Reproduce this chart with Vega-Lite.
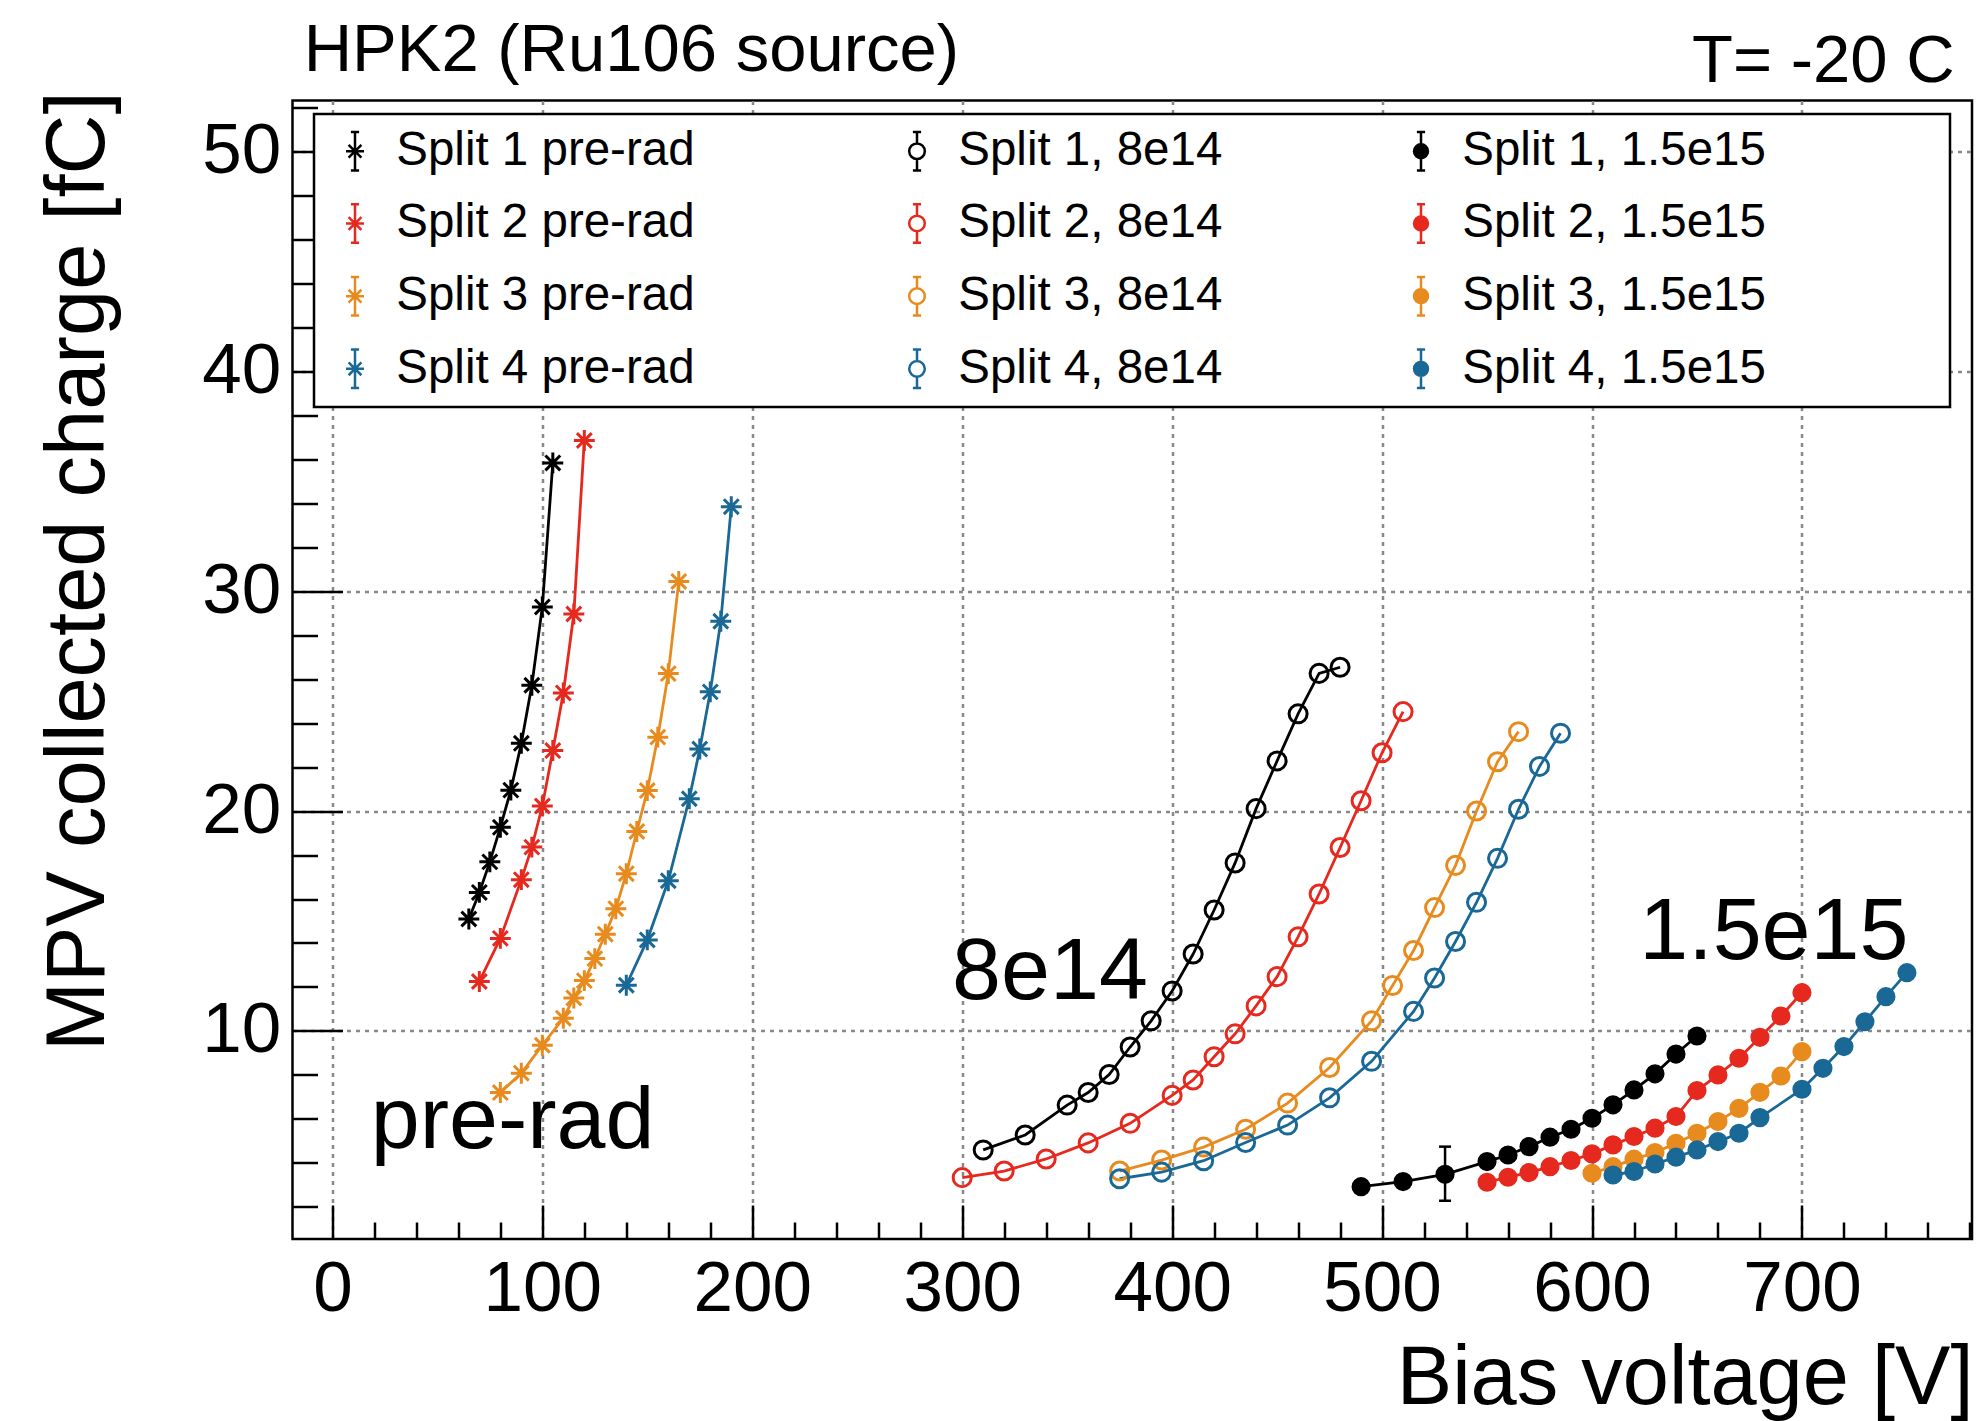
{
"$schema": "https://vega.github.io/schema/vega-lite/v6.json",
"width": 1679.5,
"height": 1138.5,
"autosize": "none",
"padding": {"left": 292.5, "top": 100.5, "right": 7, "bottom": 182},
"background": "white",
"config": {"view": {"stroke": "black", "strokeWidth": 2.5}, "font": "Liberation Sans", "legend": {"strokeWidth": 2.5}},
"datasets": {
"pts": [
{"s":"Split 1 pre-rad","v":65,"q":15.09},{"s":"Split 1 pre-rad","v":70,"q":16.30},{"s":"Split 1 pre-rad","v":75,"q":17.69},{"s":"Split 1 pre-rad","v":80,"q":19.26},{"s":"Split 1 pre-rad","v":85,"q":20.95},{"s":"Split 1 pre-rad","v":90,"q":23.08},{"s":"Split 1 pre-rad","v":95,"q":25.72},{"s":"Split 1 pre-rad","v":100,"q":29.28},{"s":"Split 1 pre-rad","v":105,"q":35.83},
{"s":"Split 2 pre-rad","v":70,"q":12.25},{"s":"Split 2 pre-rad","v":80,"q":14.21},{"s":"Split 2 pre-rad","v":90,"q":16.88},{"s":"Split 2 pre-rad","v":95,"q":18.36},{"s":"Split 2 pre-rad","v":100,"q":20.23},{"s":"Split 2 pre-rad","v":105,"q":22.75},{"s":"Split 2 pre-rad","v":110,"q":25.37},{"s":"Split 2 pre-rad","v":115,"q":28.96},{"s":"Split 2 pre-rad","v":120,"q":36.85},
{"s":"Split 3 pre-rad","v":80,"q":7.20},{"s":"Split 3 pre-rad","v":90,"q":8.08},{"s":"Split 3 pre-rad","v":100,"q":9.35},{"s":"Split 3 pre-rad","v":110,"q":10.58},{"s":"Split 3 pre-rad","v":115,"q":11.50},{"s":"Split 3 pre-rad","v":120,"q":12.29},{"s":"Split 3 pre-rad","v":125,"q":13.29},{"s":"Split 3 pre-rad","v":130,"q":14.40},{"s":"Split 3 pre-rad","v":135,"q":15.56},{"s":"Split 3 pre-rad","v":140,"q":17.15},{"s":"Split 3 pre-rad","v":145,"q":19.07},{"s":"Split 3 pre-rad","v":150,"q":20.93},{"s":"Split 3 pre-rad","v":155,"q":23.36},{"s":"Split 3 pre-rad","v":160,"q":26.25},{"s":"Split 3 pre-rad","v":165,"q":30.44},
{"s":"Split 4 pre-rad","v":140,"q":12.08},{"s":"Split 4 pre-rad","v":150,"q":14.14},{"s":"Split 4 pre-rad","v":160,"q":16.83},{"s":"Split 4 pre-rad","v":170,"q":20.56},{"s":"Split 4 pre-rad","v":175,"q":22.82},{"s":"Split 4 pre-rad","v":180,"q":25.42},{"s":"Split 4 pre-rad","v":185,"q":28.63},{"s":"Split 4 pre-rad","v":190,"q":33.84},
{"s":"Split 1, 8e14","v":310,"q":4.59},{"s":"Split 1, 8e14","v":330,"q":5.27},{"s":"Split 1, 8e14","v":350,"q":6.63},{"s":"Split 1, 8e14","v":360,"q":7.20},{"s":"Split 1, 8e14","v":370,"q":8.02},{"s":"Split 1, 8e14","v":380,"q":9.27},{"s":"Split 1, 8e14","v":390,"q":10.46},{"s":"Split 1, 8e14","v":400,"q":11.82},{"s":"Split 1, 8e14","v":410,"q":13.50},{"s":"Split 1, 8e14","v":420,"q":15.50},{"s":"Split 1, 8e14","v":430,"q":17.64},{"s":"Split 1, 8e14","v":440,"q":20.11},{"s":"Split 1, 8e14","v":450,"q":22.28},{"s":"Split 1, 8e14","v":460,"q":24.42},{"s":"Split 1, 8e14","v":470,"q":26.26},{"s":"Split 1, 8e14","v":480,"q":26.54},
{"s":"Split 2, 8e14","v":300,"q":3.33},{"s":"Split 2, 8e14","v":320,"q":3.63},{"s":"Split 2, 8e14","v":340,"q":4.18},{"s":"Split 2, 8e14","v":360,"q":4.91},{"s":"Split 2, 8e14","v":380,"q":5.80},{"s":"Split 2, 8e14","v":400,"q":7.07},{"s":"Split 2, 8e14","v":410,"q":7.77},{"s":"Split 2, 8e14","v":420,"q":8.83},{"s":"Split 2, 8e14","v":430,"q":9.87},{"s":"Split 2, 8e14","v":440,"q":11.14},{"s":"Split 2, 8e14","v":450,"q":12.47},{"s":"Split 2, 8e14","v":460,"q":14.28},{"s":"Split 2, 8e14","v":470,"q":16.23},{"s":"Split 2, 8e14","v":480,"q":18.34},{"s":"Split 2, 8e14","v":490,"q":20.47},{"s":"Split 2, 8e14","v":500,"q":22.65},{"s":"Split 2, 8e14","v":510,"q":24.52},
{"s":"Split 3, 8e14","v":375,"q":3.63},{"s":"Split 3, 8e14","v":395,"q":4.13},{"s":"Split 3, 8e14","v":415,"q":4.72},{"s":"Split 3, 8e14","v":435,"q":5.53},{"s":"Split 3, 8e14","v":455,"q":6.72},{"s":"Split 3, 8e14","v":475,"q":8.34},{"s":"Split 3, 8e14","v":495,"q":10.46},{"s":"Split 3, 8e14","v":505,"q":12.07},{"s":"Split 3, 8e14","v":515,"q":13.66},{"s":"Split 3, 8e14","v":525,"q":15.61},{"s":"Split 3, 8e14","v":535,"q":17.53},{"s":"Split 3, 8e14","v":545,"q":20.0},{"s":"Split 3, 8e14","v":555,"q":22.24},{"s":"Split 3, 8e14","v":565,"q":23.61},
{"s":"Split 4, 8e14","v":375,"q":3.28},{"s":"Split 4, 8e14","v":395,"q":3.58},{"s":"Split 4, 8e14","v":415,"q":4.10},{"s":"Split 4, 8e14","v":435,"q":4.93},{"s":"Split 4, 8e14","v":455,"q":5.72},{"s":"Split 4, 8e14","v":475,"q":6.96},{"s":"Split 4, 8e14","v":495,"q":8.62},{"s":"Split 4, 8e14","v":515,"q":10.89},{"s":"Split 4, 8e14","v":525,"q":12.41},{"s":"Split 4, 8e14","v":535,"q":14.07},{"s":"Split 4, 8e14","v":545,"q":15.85},{"s":"Split 4, 8e14","v":555,"q":17.85},{"s":"Split 4, 8e14","v":565,"q":20.08},{"s":"Split 4, 8e14","v":575,"q":22.03},{"s":"Split 4, 8e14","v":585,"q":23.54},
{"s":"Split 1, 1.5e15","v":490,"q":2.92},{"s":"Split 1, 1.5e15","v":510,"q":3.15},{"s":"Split 1, 1.5e15","v":530,"q":3.48},{"s":"Split 1, 1.5e15","v":550,"q":4.06},{"s":"Split 1, 1.5e15","v":560,"q":4.36},{"s":"Split 1, 1.5e15","v":570,"q":4.74},{"s":"Split 1, 1.5e15","v":580,"q":5.17},{"s":"Split 1, 1.5e15","v":590,"q":5.53},{"s":"Split 1, 1.5e15","v":600,"q":6.03},{"s":"Split 1, 1.5e15","v":610,"q":6.64},{"s":"Split 1, 1.5e15","v":620,"q":7.32},{"s":"Split 1, 1.5e15","v":630,"q":8.05},{"s":"Split 1, 1.5e15","v":640,"q":8.95},{"s":"Split 1, 1.5e15","v":650,"q":9.77},
{"s":"Split 2, 1.5e15","v":550,"q":3.12},{"s":"Split 2, 1.5e15","v":560,"q":3.35},{"s":"Split 2, 1.5e15","v":570,"q":3.56},{"s":"Split 2, 1.5e15","v":580,"q":3.83},{"s":"Split 2, 1.5e15","v":590,"q":4.11},{"s":"Split 2, 1.5e15","v":600,"q":4.41},{"s":"Split 2, 1.5e15","v":610,"q":4.82},{"s":"Split 2, 1.5e15","v":620,"q":5.20},{"s":"Split 2, 1.5e15","v":630,"q":5.58},{"s":"Split 2, 1.5e15","v":640,"q":6.11},{"s":"Split 2, 1.5e15","v":650,"q":7.29},{"s":"Split 2, 1.5e15","v":660,"q":8.00},{"s":"Split 2, 1.5e15","v":670,"q":8.76},{"s":"Split 2, 1.5e15","v":680,"q":9.71},{"s":"Split 2, 1.5e15","v":690,"q":10.68},{"s":"Split 2, 1.5e15","v":700,"q":11.74},
{"s":"Split 3, 1.5e15","v":600,"q":3.53},{"s":"Split 3, 1.5e15","v":610,"q":3.83},{"s":"Split 3, 1.5e15","v":620,"q":4.17},{"s":"Split 3, 1.5e15","v":630,"q":4.47},{"s":"Split 3, 1.5e15","v":640,"q":4.89},{"s":"Split 3, 1.5e15","v":650,"q":5.35},{"s":"Split 3, 1.5e15","v":660,"q":5.88},{"s":"Split 3, 1.5e15","v":670,"q":6.48},{"s":"Split 3, 1.5e15","v":680,"q":7.21},{"s":"Split 3, 1.5e15","v":690,"q":7.95},{"s":"Split 3, 1.5e15","v":700,"q":9.06},
{"s":"Split 4, 1.5e15","v":610,"q":3.45},{"s":"Split 4, 1.5e15","v":620,"q":3.61},{"s":"Split 4, 1.5e15","v":630,"q":3.95},{"s":"Split 4, 1.5e15","v":640,"q":4.26},{"s":"Split 4, 1.5e15","v":650,"q":4.59},{"s":"Split 4, 1.5e15","v":660,"q":4.97},{"s":"Split 4, 1.5e15","v":670,"q":5.35},{"s":"Split 4, 1.5e15","v":680,"q":6.06},{"s":"Split 4, 1.5e15","v":700,"q":7.35},{"s":"Split 4, 1.5e15","v":710,"q":8.30},{"s":"Split 4, 1.5e15","v":720,"q":9.29},{"s":"Split 4, 1.5e15","v":730,"q":10.42},{"s":"Split 4, 1.5e15","v":740,"q":11.56},{"s":"Split 4, 1.5e15","v":750,"q":12.65}
],
"err": [{"v":530,"lo":2.28,"hi":4.74}],
"notes": [{"t":"pre-rad","v":18.3,"q":4.68},{"t":"8e14","v":295.2,"q":11.46},{"t":"1.5e15","v":622.5,"q":13.26}]
},
"resolve": {"axis": {"x": "independent", "y": "independent"}},
"layer": [
{
"data": {"name": "pts"},
"mark": {"type": "line", "strokeWidth": 2.8},
"encoding": {
"x": {"field": "v", "type": "quantitative", "scale": {"domain": [-19, 781], "nice": false, "zero": false},
"axis": {"orient": "bottom", "values": [0,100,200,300,400,500,600,700], "format": "d", "domain": false, "ticks": true, "tickSize": -34, "tickWidth": 2.5, "tickColor": "black", "labelFontSize": 71, "labelFont": "Liberation Sans", "labelColor": "black", "labelPadding": 105, "labelBaseline": "alphabetic", "labelFlush": false, "labelOverlap": false, "labelBound": false, "grid": true, "gridColor": "#888888", "gridDash": [4,5], "gridWidth": 2.5, "title": "Bias voltage [V]", "titleFont": "Liberation Sans", "titleFontSize": 83, "titleFontWeight": "normal", "titleColor": "black", "titleAlign": "right", "titleBaseline": "alphabetic", "titleX": 1680.5, "titleY": 164}},
"y": {"field": "q", "type": "quantitative", "scale": {"domain": [0.54, 52.31], "nice": false, "zero": false},
"axis": {"orient": "left", "values": [10,20,30,40,50], "format": "d", "domain": false, "ticks": true, "tickSize": -50, "tickWidth": 2.5, "tickColor": "black", "labelFontSize": 71, "labelFont": "Liberation Sans", "labelColor": "black", "labelPadding": 61.7, "labelAlign": "right", "labelBaseline": "middle", "labelFlush": false, "labelOverlap": false, "labelBound": false, "grid": true, "gridColor": "#888888", "gridDash": [4,5], "gridWidth": 2.5, "title": "MPV collected charge [fC]", "titleFont": "Liberation Sans", "titleFontSize": 83, "titleFontWeight": "normal", "titleColor": "black", "titleAngle": -90, "titleAlign": "right", "titleBaseline": "alphabetic", "titleX": -189, "titleY": -9.5}},
"color": {"field": "s", "type": "nominal", "legend": null, "scale": {"domain": ["Split 1 pre-rad","Split 1, 8e14","Split 1, 1.5e15","Split 2 pre-rad","Split 2, 8e14","Split 2, 1.5e15","Split 3 pre-rad","Split 3, 8e14","Split 3, 1.5e15","Split 4 pre-rad","Split 4, 8e14","Split 4, 1.5e15"], "range": ["#000000","#000000","#000000","#e6291e","#e6291e","#e6291e","#e88b1e","#e88b1e","#e88b1e","#1a6896","#1a6896","#1a6896"]}}
}
},
{
"data": {"name": "pts"},
"mark": {"type": "point", "size": 361, "strokeWidth": 3, "opacity": 1},
"encoding": {
"x": {"field": "v", "type": "quantitative", "scale": {"domain": [-19, 781], "nice": false, "zero": false},
"axis": {"orient": "bottom", "values": [20,40,60,80,120,140,160,180,220,240,260,280,320,340,360,380,420,440,460,480,520,540,560,580,620,640,660,680,720,740,760,780], "domain": false, "labels": false, "grid": false, "ticks": true, "tickSize": -17, "tickWidth": 2.5, "tickColor": "black", "title": null}},
"y": {"field": "q", "type": "quantitative", "scale": {"domain": [0.54, 52.31], "nice": false, "zero": false},
"axis": {"orient": "left", "values": [2,4,6,8,12,14,16,18,22,24,26,28,32,34,36,38,42,44,46,48,52], "domain": false, "labels": false, "grid": false, "ticks": true, "tickSize": -25, "tickWidth": 2.5, "tickColor": "black", "title": null}},
"stroke": {"field": "s", "type": "nominal", "scale": {"domain": ["Split 1 pre-rad","Split 2 pre-rad","Split 3 pre-rad","Split 4 pre-rad","Split 1, 8e14","Split 2, 8e14","Split 3, 8e14","Split 4, 8e14","Split 1, 1.5e15","Split 2, 1.5e15","Split 3, 1.5e15","Split 4, 1.5e15"], "range": ["#000000","#e6291e","#e88b1e","#1a6896","#000000","#e6291e","#e88b1e","#1a6896","#000000","#e6291e","#e88b1e","#1a6896"]},
"legend": {"title": null, "orient": "none", "legendX": 21.5, "legendY": 13.5, "columns": 3, "padding": 13, "rowPadding": 22.7, "columnPadding": 170, "fillColor": "white", "strokeColor": "black", "labelFontSize": 47.5, "labelFont": "Liberation Sans", "labelColor": "black", "labelLimit": 2000, "labelOffset": 17.5, "symbolOffset": 4.25, "symbolSize": 269, "symbolStrokeWidth": 2.5, "gridAlign": "each",
"encoding": {"legend": {"strokeWidth": {"value": 2.5}}, "symbols": {"shape": {"value": {"signal": "scale('shape', datum.value) + 'M0,-0.95L0,-2.35M-0.5,-2.35L0.5,-2.35M0,0.95L0,2.35M-0.5,2.35L0.5,2.35' + (indexof(datum.value, 'pre-rad') >= 0 ? 'M43.66,0' : (indexof(datum.value, '1.5e15') >= 0 ? 'M62.3,0' : ''))"}}}}}},
"fill": {"field": "s", "type": "nominal", "scale": {"domain": ["Split 1 pre-rad","Split 2 pre-rad","Split 3 pre-rad","Split 4 pre-rad","Split 1, 8e14","Split 2, 8e14","Split 3, 8e14","Split 4, 8e14","Split 1, 1.5e15","Split 2, 1.5e15","Split 3, 1.5e15","Split 4, 1.5e15"], "range": ["transparent","transparent","transparent","transparent","transparent","transparent","transparent","transparent","#000000","#e6291e","#e88b1e","#1a6896"]}},
"shape": {"field": "s", "type": "nominal", "legend": null, "scale": {"domain": ["Split 1 pre-rad","Split 1, 8e14","Split 1, 1.5e15","Split 2 pre-rad","Split 2, 8e14","Split 2, 1.5e15","Split 3 pre-rad","Split 3, 8e14","Split 3, 1.5e15","Split 4 pre-rad","Split 4, 8e14","Split 4, 1.5e15"], "range": [
"M-1.1,0L1.1,0M0,-1.1L0,1.1M-0.78,-0.78L0.78,0.78M-0.78,0.78L0.78,-0.78",
"M-0.95,0A0.95,0.95,0,1,1,0.95,0A0.95,0.95,0,1,1,-0.95,0Z",
"M-0.85,0A0.85,0.85,0,1,1,0.85,0A0.85,0.85,0,1,1,-0.85,0Z",
"M-1.1,0L1.1,0M0,-1.1L0,1.1M-0.78,-0.78L0.78,0.78M-0.78,0.78L0.78,-0.78",
"M-0.95,0A0.95,0.95,0,1,1,0.95,0A0.95,0.95,0,1,1,-0.95,0Z",
"M-0.85,0A0.85,0.85,0,1,1,0.85,0A0.85,0.85,0,1,1,-0.85,0Z",
"M-1.1,0L1.1,0M0,-1.1L0,1.1M-0.78,-0.78L0.78,0.78M-0.78,0.78L0.78,-0.78",
"M-0.95,0A0.95,0.95,0,1,1,0.95,0A0.95,0.95,0,1,1,-0.95,0Z",
"M-0.85,0A0.85,0.85,0,1,1,0.85,0A0.85,0.85,0,1,1,-0.85,0Z",
"M-1.1,0L1.1,0M0,-1.1L0,1.1M-0.78,-0.78L0.78,0.78M-0.78,0.78L0.78,-0.78",
"M-0.95,0A0.95,0.95,0,1,1,0.95,0A0.95,0.95,0,1,1,-0.95,0Z",
"M-0.85,0A0.85,0.85,0,1,1,0.85,0A0.85,0.85,0,1,1,-0.85,0Z"]}}
}
},
{
"data": {"name": "err"},
"mark": {"type": "rule", "strokeWidth": 2.5, "color": "black"},
"encoding": {
"x": {"field": "v", "type": "quantitative", "scale": {"domain": [-19, 781], "nice": false, "zero": false}, "axis": null},
"y": {"field": "lo", "type": "quantitative", "scale": {"domain": [0.54, 52.31], "nice": false, "zero": false}, "axis": null},
"y2": {"field": "hi"}
}
},
{
"data": {"name": "err"},
"transform": [{"fold": ["lo", "hi"], "as": ["k", "yv"]}],
"mark": {"type": "point", "shape": "M-1,0L1,0", "size": 144, "strokeWidth": 2.5, "color": "black", "filled": false, "opacity": 1},
"encoding": {
"x": {"field": "v", "type": "quantitative", "scale": {"domain": [-19, 781], "nice": false, "zero": false}, "axis": null},
"y": {"field": "yv", "type": "quantitative", "scale": {"domain": [0.54, 52.31], "nice": false, "zero": false}, "axis": null}
}
},
{
"data": {"name": "notes"},
"mark": {"type": "text", "align": "left", "baseline": "alphabetic", "fontSize": 88, "font": "Liberation Sans", "color": "black"},
"encoding": {
"x": {"field": "v", "type": "quantitative", "scale": {"domain": [-19, 781], "nice": false, "zero": false}, "axis": null},
"y": {"field": "q", "type": "quantitative", "scale": {"domain": [0.54, 52.31], "nice": false, "zero": false}, "axis": null},
"text": {"field": "t"}
}
},
{
"data": {"values": [{}]},
"mark": {"type": "text", "align": "left", "baseline": "alphabetic", "fontSize": 67, "font": "Liberation Sans", "color": "black"},
"encoding": {
"x": {"datum": -13.7, "type": "quantitative", "axis": null},
"y": {"datum": 53.65, "type": "quantitative", "axis": null},
"text": {"value": "HPK2 (Ru106 source)"}
}
},
{
"data": {"values": [{}]},
"mark": {"type": "text", "align": "right", "baseline": "alphabetic", "fontSize": 67, "font": "Liberation Sans", "color": "black"},
"encoding": {
"x": {"datum": 772.7, "type": "quantitative", "axis": null},
"y": {"datum": 53.16, "type": "quantitative", "axis": null},
"text": {"value": "T= -20 C"}
}
}
]
}
